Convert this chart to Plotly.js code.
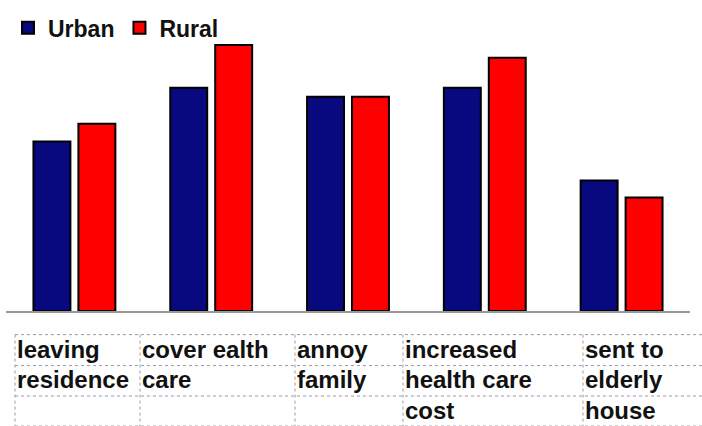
<!DOCTYPE html>
<html>
<head>
<meta charset="utf-8">
<script src="https://cdn.plot.ly/plotly-3.0.1.min.js"></script>
<style>html,body{margin:0;padding:0;background:#fff;}#chart{width:702px;height:426px;}</style>
</head>
<body>
<div id="chart"></div>
<script>
// Data
var categories = ["leaving residence", "cover ealth care", "annoy family", "increased health care cost", "sent to elderly house"];
var tableLabels = [
  ["leaving", "residence"],
  ["cover ealth", "care"],
  ["annoy", "family"],
  ["increased", "health care", "cost"],
  ["sent to", "elderly", "house"]
];
var urbanValues = [34, 44.8, 43, 44.8, 26.2];
var ruralValues = [37.6, 53.4, 43, 50.8, 22.8];
var seriesNames = ["Urban", "Rural"];

// Layout geometry (pixels)
var W = 702, H = 426;
var mL = 6, mR = 12, mT = 11, mB = 115;
var plotW = W - mL - mR, plotH = H - mT - mB;
function px(x){ return (x - mL) / plotW; }
function py(y){ return (H - mB - y) / plotH; }

var font = "Liberation Sans, Arial, sans-serif";

var traces = [
  {type: "bar", name: seriesNames[0], x: categories, y: urbanValues,
   marker: {color: "#08087f", line: {color: "#000000", width: 2}}},
  {type: "bar", name: seriesNames[1], x: categories, y: ruralValues,
   marker: {color: "#ff0000", line: {color: "#000000", width: 2}}}
];

var shapes = [];
var annotations = [];
var dash = {color: "#9a9aa8", width: 1, dash: "dot"};
// horizontal table lines
var rowsY = [335, 366.5, 397.5, 428];
rowsY.forEach(function(y){
  shapes.push({type: "line", xref: "paper", yref: "paper", x0: px(15), x1: px(710), y0: py(y), y1: py(y), line: dash});
});
var colsX = [15, 140, 295, 403, 583];
colsX.forEach(function(x){
  shapes.push({type: "line", xref: "paper", yref: "paper", x0: px(x), x1: px(x), y0: py(335), y1: py(430), line: dash});
});
// table text
tableLabels.forEach(function(lines, i){
  lines.forEach(function(t, j){
    annotations.push({
      xref: "paper", yref: "paper", x: px(colsX[i] + 0), y: py((rowsY[j] + rowsY[j+1]) / 2 - 1),
      xanchor: "left", yanchor: "middle", showarrow: false, text: t,
      font: {family: font, size: 24, weight: 700, color: "#111111"}
    });
  });
});

var layout = {
  width: W, height: H,
  margin: {l: mL, r: mR, t: mT, b: mB, pad: 0},
  paper_bgcolor: "#ffffff", plot_bgcolor: "#ffffff",
  barmode: "group", bargap: 0.343, bargroupgap: 0.178,
  showlegend: true,
  legend: {orientation: "h", x: px(8), y: py(23), xanchor: "left", yanchor: "middle",
           font: {family: font, size: 23, weight: 700, color: "#111111"}, itemwidth: 30, bgcolor: "rgba(0,0,0,0)"},
  xaxis: {showticklabels: false, ticks: "", showgrid: false, zeroline: false,
          showline: true, linecolor: "#999999", linewidth: 1.5, fixedrange: true},
  yaxis: {range: [0, 59.2], showticklabels: false, ticks: "", showgrid: false, zeroline: false,
          showline: false, fixedrange: true},
  shapes: shapes,
  annotations: annotations
};

Plotly.newPlot("chart", traces, layout, {displayModeBar: false, staticPlot: true});
</script>
</body>
</html>
